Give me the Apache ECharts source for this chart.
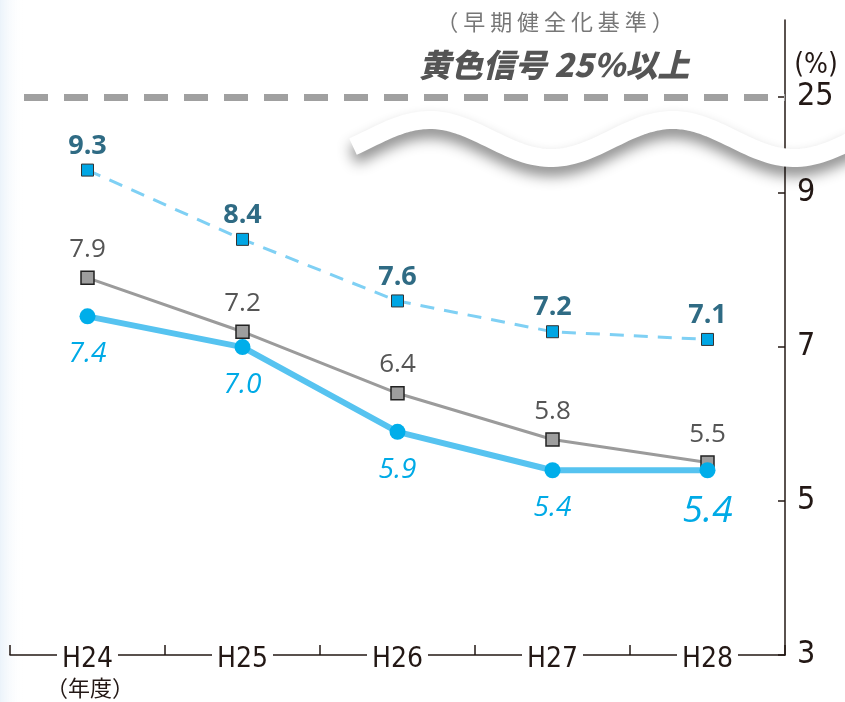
<!DOCTYPE html>
<html lang="ja">
<head>
    <meta charset="UTF-8">
    <title>実質公債費比率</title>
    <script type="text/javascript" src="https://cdn.jsdelivr.net/npm/echarts@6/dist/echarts.min.js"></script>
    <style>
        *{
            margin:0;
            padding:0;
        }
        #main {
            width:845px;
            height:702px;
            background-color:#fff;
        }
    </style>
</head>
<body>
<div id="main"></div>
<script type="text/javascript">
    // データ
    var years = ['H24', 'H25', 'H26', 'H27', 'H28'];
    var dashedValues = [9.3, 8.4, 7.6, 7.2, 7.1];
    var grayValues = [7.9, 7.2, 6.4, 5.8, 5.5];
    var blueValues = [7.4, 7.0, 5.9, 5.4, 5.4];
    // 軸の目盛（25は省略線の上に置く）
    var yTickValues = [3, 5, 7, 9, 10.25];
    var yTickLabels = ['3', '5', '7', '9', '25'];
    var limitValue = 10.25;

    var dom = document.getElementById('main');
    var myChart = echarts.init(dom);

    var narrow = '"Liberation Sans Narrow", "DejaVu Sans Condensed", sans-serif';
    var jp = '"Noto Sans CJK JP", sans-serif';
    var num = '"Open Sans", "Noto Sans", sans-serif';

    function fmt(p) {
        return Number(p.value).toFixed(1);
    }

    // 波線（省略記号）
    var wavePts = [];
    for (var x = 353; x <= 860; x += 4) {
        wavePts.push([x, 139 - 19 * Math.sin(2 * Math.PI * (x - 369) / 243)]);
    }

    var blueData = blueValues.map(function (v, i) {
        if (i === blueValues.length - 1) {
            return {value: v, label: {fontSize: 37, distance: 15}};
        }
        return v;
    });

    var option = {
        animation: false,
        grid: {
            left: 10,
            right: 60,
            top: 20,
            bottom: 47
        },
        xAxis: {
            type: 'category',
            data: years,
            boundaryGap: true,
            axisLine: {
                lineStyle: {color: '#231815', width: 1.5}
            },
            axisTick: {
                show: true,
                interval: 0,
                inside: true,
                length: 10,
                lineStyle: {color: '#231815', width: 1.5}
            },
            axisLabel: {
                color: '#231815',
                fontSize: 28,
                fontFamily: narrow,
                verticalAlign: 'middle',
                margin: 5,
                backgroundColor: '#fff',
                padding: [0, 5]
            }
        },
        yAxis: {
            type: 'value',
            position: 'right',
            min: 3,
            max: 11.25,
            interval: 2,
            splitLine: {show: false},
            axisLine: {
                show: true,
                lineStyle: {color: '#231815', width: 1.5}
            },
            axisTick: {
                show: true,
                inside: true,
                length: 7,
                customValues: yTickValues,
                lineStyle: {color: '#231815', width: 1.5}
            },
            axisLabel: {
                color: '#231815',
                fontSize: 32,
                fontFamily: narrow,
                margin: 12,
                customValues: yTickValues,
                formatter: function (v) {
                    var i = yTickValues.indexOf(v);
                    return i >= 0 ? yTickLabels[i] : '';
                }
            }
        },
        series: [
            {
                name: '早期健全化基準',
                type: 'line',
                data: dashedValues,
                symbol: 'rect',
                symbolSize: 12,
                z: 3,
                lineStyle: {color: '#7fd0f4', width: 3, type: [14, 10]},
                itemStyle: {color: '#00a6e4', borderColor: '#333', borderWidth: 1},
                label: {
                    show: true,
                    position: 'top',
                    distance: 4,
                    formatter: fmt,
                    color: '#2f6b84',
                    fontSize: 27,
                    fontWeight: 'bold',
                    fontFamily: num
                },
                markLine: {
                    silent: true,
                    symbol: 'none',
                    label: {show: false},
                    lineStyle: {
                        color: '#a0a0a0',
                        width: 7,
                        type: [24, 16],
                        dashOffset: 26
                    },
                    data: [{yAxis: limitValue}]
                }
            },
            {
                name: '全国平均',
                type: 'line',
                data: grayValues,
                symbol: 'rect',
                symbolSize: 13,
                z: 4,
                lineStyle: {color: '#9b9b9b', width: 3},
                itemStyle: {color: '#9e9e9e', borderColor: '#222', borderWidth: 1.5},
                label: {
                    show: true,
                    position: 'top',
                    distance: 8,
                    formatter: fmt,
                    color: '#555',
                    fontSize: 26,
                    fontFamily: num
                }
            },
            {
                name: '本市',
                type: 'line',
                data: blueData,
                symbol: 'circle',
                symbolSize: 16,
                z: 5,
                lineStyle: {color: '#56c3f0', width: 6},
                itemStyle: {color: '#00aeea'},
                label: {
                    show: true,
                    position: 'bottom',
                    distance: 16,
                    formatter: fmt,
                    color: '#00aae6',
                    fontSize: 28,
                    fontStyle: 'italic',
                    fontFamily: num
                }
            }
        ],
        graphic: [
            {
                type: 'rect',
                z: -10,
                shape: {x: 0, y: 0, width: 24, height: 702},
                style: {
                    fill: new echarts.graphic.LinearGradient(0, 0, 1, 0, [
                        {offset: 0, color: 'rgba(222,235,247,0.6)'},
                        {offset: 1, color: 'rgba(255,255,255,0)'}
                    ])
                }
            },
            {
                type: 'polyline',
                z: 100,
                shape: {points: wavePts},
                style: {
                    fill: null,
                    stroke: '#fff',
                    lineWidth: 18,
                    shadowBlur: 14,
                    shadowOffsetY: 9,
                    shadowColor: 'rgba(0,0,0,0.45)'
                }
            },
            {
                type: 'text',
                z: 101,
                x: 555,
                y: 22,
                style: {
                    text: '（ 早 期 健 全 化 基 準 ）',
                    fill: '#777',
                    font: '22px ' + jp,
                    align: 'center',
                    verticalAlign: 'middle'
                }
            },
            {
                type: 'text',
                z: 101,
                x: 554,
                y: 65,
                style: {
                    text: '黄色信号 25％以上',
                    fill: '#555',
                    font: 'italic 900 32px ' + jp,
                    align: 'center',
                    verticalAlign: 'middle'
                }
            },
            {
                type: 'text',
                z: 101,
                x: 816,
                y: 66,
                style: {
                    text: '(%)',
                    fill: '#231815',
                    font: '28px ' + narrow,
                    align: 'center',
                    verticalAlign: 'middle'
                }
            },
            {
                type: 'text',
                z: 101,
                x: 90,
                y: 688,
                style: {
                    text: '（年度）',
                    fill: '#231815',
                    font: '22px ' + jp,
                    align: 'center',
                    verticalAlign: 'middle'
                }
            }
        ]
    };

    myChart.setOption(option);
</script>
</body>
</html>
